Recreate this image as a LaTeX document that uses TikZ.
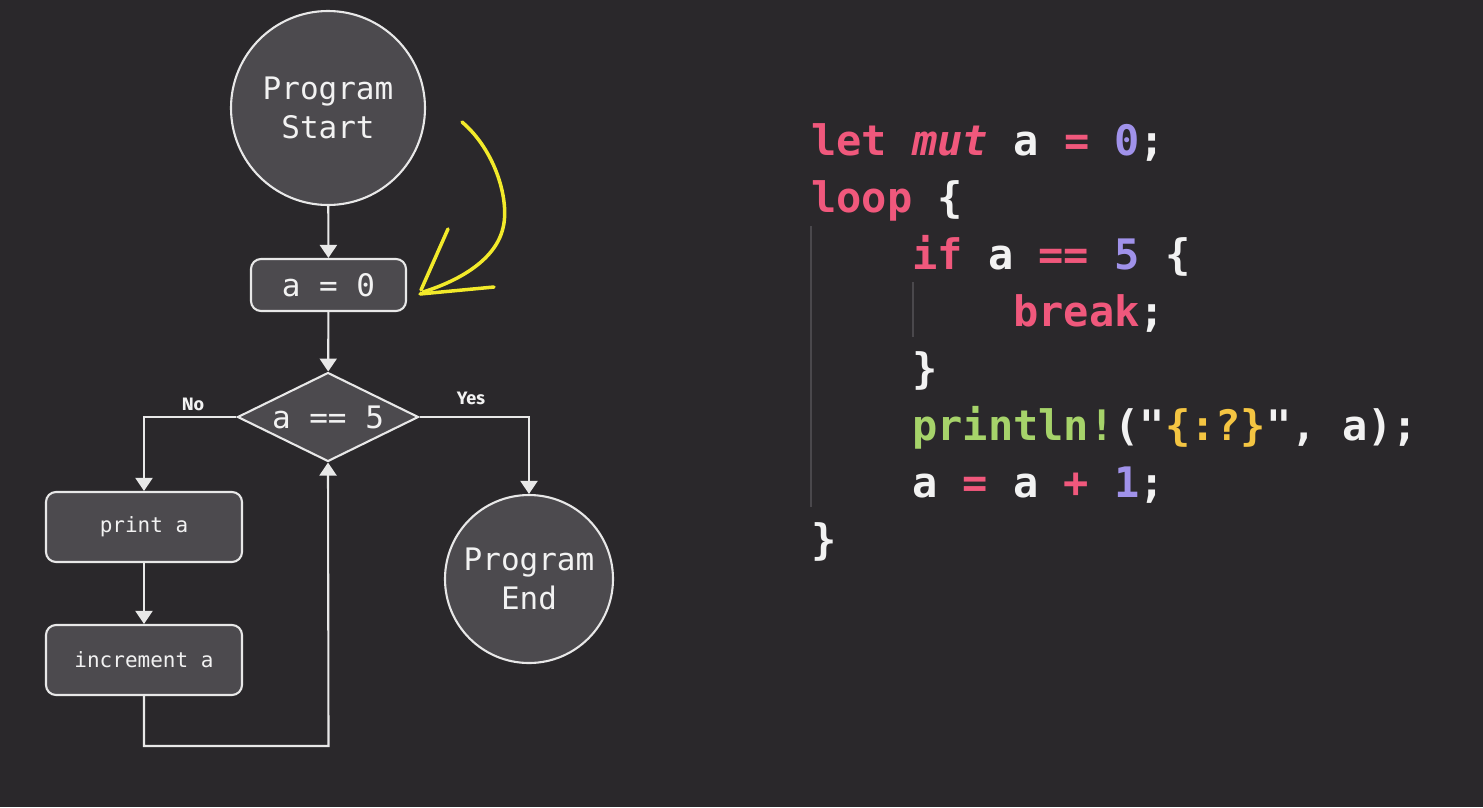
\documentclass[tikz,border=0pt]{standalone}
\usepackage{fontspec}
\usetikzlibrary{arrows.meta,shapes.geometric}
\newfontfamily\fmono{DejaVu Sans Mono}
\newfontfamily\flabel{Fira Sans}
\definecolor{bgc}{HTML}{2A282B}
\definecolor{nodefill}{HTML}{4C4A4E}
\definecolor{linec}{HTML}{E8E8E8}
\definecolor{kwc}{HTML}{F0587C}
\definecolor{numc}{HTML}{A092EA}
\definecolor{grnc}{HTML}{A6D36A}
\definecolor{ylwc}{HTML}{F4C542}
\definecolor{txtc}{HTML}{F2F2F2}
\definecolor{guidec}{HTML}{4A484C}
\definecolor{penc}{HTML}{F2EA2A}
\newcommand{\kw}[1]{\textcolor{kwc}{#1}}
\newcommand{\nm}[1]{\textcolor{numc}{#1}}
\newcommand{\gr}[1]{\textcolor{grnc}{#1}}
\newcommand{\yl}[1]{\textcolor{ylwc}{#1}}
\newcommand{\zerobox}[1]{\raisebox{-0.36em}[0pt][0pt]{\makebox[0pt]{#1}}}
\tikzset{
  flowline/.style={draw=linec, line width=2.1pt},
  arr/.style={flowline, -{Triangle[width=17pt,length=13pt]}},
  circnode/.style={circle, draw=linec, line width=2.1pt, fill=nodefill, text=txtc,
    align=center, font=\fmono\fontsize{31}{39}\selectfont},
  boxnode/.style={rectangle, rounded corners=10pt, draw=linec, line width=2.1pt,
    fill=nodefill, text=txtc},
  dianode/.style={diamond, draw=linec, line width=2.1pt, fill=nodefill, text=txtc,
    inner sep=0pt, minimum width=181pt, minimum height=89pt,
    font=\fmono\fontsize{31}{36}\selectfont},
  lbl/.style={text=txtc, font=\flabel\bfseries\fontsize{18}{20}\selectfont},
  codeline/.style={anchor=base west, inner sep=0pt, text=txtc,
    font=\fmono\bfseries\fontsize{42}{48}\selectfont},
  guide/.style={draw=guidec, line width=2pt},
  pen/.style={draw=penc, line width=3.5pt, line cap=round, line join=round}
}
\begin{document}
\begin{tikzpicture}[x=1pt,y=-1pt]
\fill[bgc] (0,0) rectangle (1483,807);
\useasboundingbox (0,0) rectangle (1483,807);

% flowchart nodes
\node[circnode, minimum size=194pt] (start) at (328,108) {Program\\Start};
\node[boxnode, minimum width=155pt, minimum height=52pt,
  font=\fmono\fontsize{31}{36}\selectfont] (init) at (328.5,285) {a = 0};
\node[dianode] (cond) at (328,417) {\zerobox{a == 5}};
\node[boxnode, minimum width=196pt, minimum height=70pt,
  font=\fmono\fontsize{21}{24}\selectfont] (print) at (144,527) {print a};
\node[boxnode, minimum width=196pt, minimum height=70pt,
  font=\fmono\fontsize{21}{24}\selectfont] (inc) at (144,660) {increment a};
\node[circnode, minimum size=168pt] (end) at (529,579) {Program\\End};
\node[lbl] (no) at (193,404) {No};
\node[lbl] (yes) at (471,398) {Yes};
\coordinate (loopc) at (328.5,746);

% connectors
\draw[arr] (start) -- (init);
\draw[arr] (init) -- (cond);
\draw[arr] (cond.west) -| (print.north);
\draw[arr] (cond.east) -| (end.north);
\draw[arr] (print) -- (inc);
\draw[arr] (inc.south) |- (loopc) -- (cond.south);

% yellow hand-drawn arrow
\draw[pen] (462,122) .. controls (495,150) and (510,200) .. (503,228)
  .. controls (495,262) and (455,282) .. (423,292);
\draw[pen] (448,229) -- (421,290);
\draw[pen] (420,294) -- (494,287);

% code
\draw[guide] (811,226) -- (811,507);
\draw[guide] (913,282) -- (913,337);
\node[codeline] (c1) at (811,155) {\kw{let} \kw{\itshape mut} a \kw{=} \nm{0};};
\node[codeline] (c2) at (811,212) {\kw{loop} \{};
\node[codeline] (c3) at (912,269) {\kw{if} a \kw{==} \nm{5} \{};
\node[codeline] (c4) at (1013,326) {\kw{break};};
\node[codeline] (c5) at (912,383) {\}};
\node[codeline] (c6) at (912,440) {\gr{println!}("\yl{\{:?\}}", a);};
\node[codeline] (c7) at (912,497) {a \kw{=} a \kw{+} \nm{1};};
\node[codeline] (c8) at (811,554) {\}};
\end{tikzpicture}
\end{document}
